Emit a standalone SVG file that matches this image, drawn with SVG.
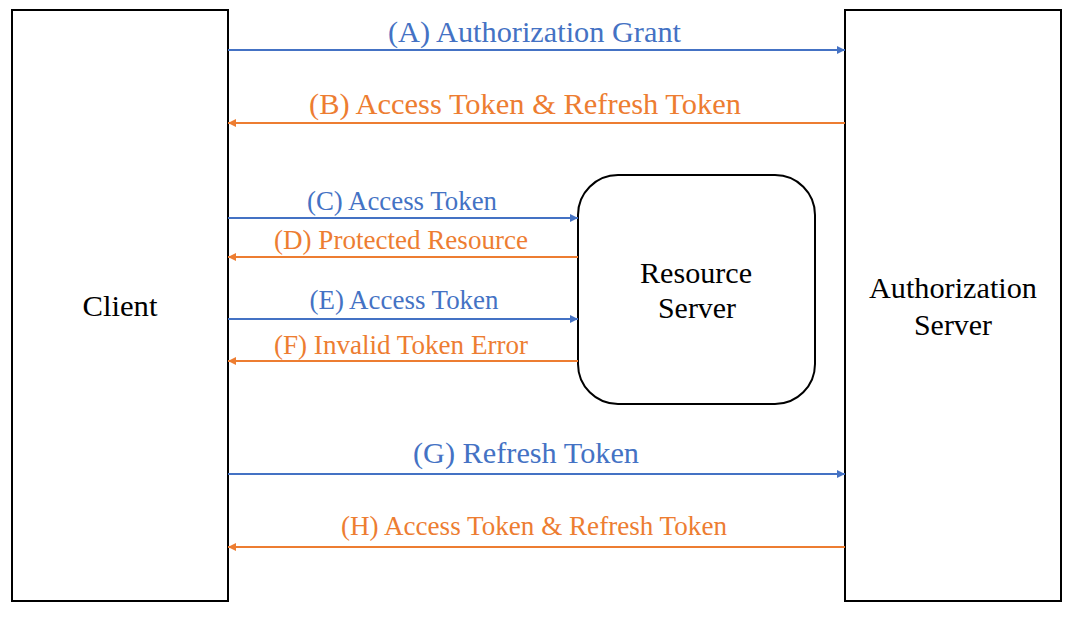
<svg xmlns="http://www.w3.org/2000/svg" width="1073" height="626" viewBox="0 0 1073 626">
<style>
.box{fill:#fff;stroke:#000;stroke-width:2}
text{font-family:'Liberation Serif',serif;text-anchor:middle}
.n{font-size:30px;fill:#000}
.L{font-size:30px}
.s{font-size:27px}
.b{stroke:#4472C4;stroke-width:2;fill:none}
.o{stroke:#ED7D31;stroke-width:2;fill:none}
.lb{fill:#4472C4}
.lo{fill:#ED7D31}
</style>
<defs>
<marker id="ab" viewBox="0 0 10 10" refX="10" refY="5" markerWidth="10" markerHeight="8" markerUnits="userSpaceOnUse" orient="auto"><path d="M0,0L10,5L0,10z" fill="#4472C4"/></marker>
<marker id="ao" viewBox="0 0 10 10" refX="10" refY="5" markerWidth="10" markerHeight="8" markerUnits="userSpaceOnUse" orient="auto"><path d="M0,0L10,5L0,10z" fill="#ED7D31"/></marker>
</defs>
<rect width="1073" height="626" fill="#fff"/>
<g id="client"><rect class="box" x="12" y="10" width="216" height="591"/><text class="n" x="120" y="316" textLength="75" lengthAdjust="spacingAndGlyphs">Client</text></g>
<g id="auth"><rect class="box" x="845" y="10" width="216" height="591"/><text class="n" x="953" y="298" textLength="168" lengthAdjust="spacingAndGlyphs">Authorization</text><text class="n" x="953" y="335" textLength="78" lengthAdjust="spacingAndGlyphs">Server</text></g>
<g id="resource"><rect class="box" x="578" y="175" width="237" height="229" rx="40" ry="40"/><text class="n" x="696" y="283" textLength="112" lengthAdjust="spacingAndGlyphs">Resource</text><text class="n" x="697" y="318" textLength="78" lengthAdjust="spacingAndGlyphs">Server</text></g>
<g id="connectors">
<line class="b" x1="228" y1="50" x2="845" y2="50" marker-end="url(#ab)"/>
<line class="o" x1="845" y1="123" x2="228" y2="123" marker-end="url(#ao)"/>
<line class="b" x1="228" y1="218" x2="578" y2="218" marker-end="url(#ab)"/>
<line class="o" x1="578" y1="257" x2="228" y2="257" marker-end="url(#ao)"/>
<line class="b" x1="228" y1="319" x2="578" y2="319" marker-end="url(#ab)"/>
<line class="o" x1="578" y1="361" x2="228" y2="361" marker-end="url(#ao)"/>
<line class="b" x1="228" y1="474" x2="845" y2="474" marker-end="url(#ab)"/>
<line class="o" x1="845" y1="547" x2="228" y2="547" marker-end="url(#ao)"/>
<text class="lb L" x="534.5" y="42" textLength="293" lengthAdjust="spacingAndGlyphs">(A) Authorization Grant</text>
<text class="lo L" x="525" y="114" textLength="432" lengthAdjust="spacingAndGlyphs">(B) Access Token &amp; Refresh Token</text>
<text class="lb s" x="402" y="210" textLength="190" lengthAdjust="spacingAndGlyphs">(C) Access Token</text>
<text class="lo s" x="401" y="249" textLength="254" lengthAdjust="spacingAndGlyphs">(D) Protected Resource</text>
<text class="lb s" x="404" y="309" textLength="189" lengthAdjust="spacingAndGlyphs">(E) Access Token</text>
<text class="lo s" x="401" y="354" textLength="254" lengthAdjust="spacingAndGlyphs">(F) Invalid Token Error</text>
<text class="lb L" x="526" y="463" textLength="226" lengthAdjust="spacingAndGlyphs">(G) Refresh Token</text>
<text class="lo s" x="534" y="535" textLength="386" lengthAdjust="spacingAndGlyphs">(H) Access Token &amp; Refresh Token</text>
</g>
</svg>
